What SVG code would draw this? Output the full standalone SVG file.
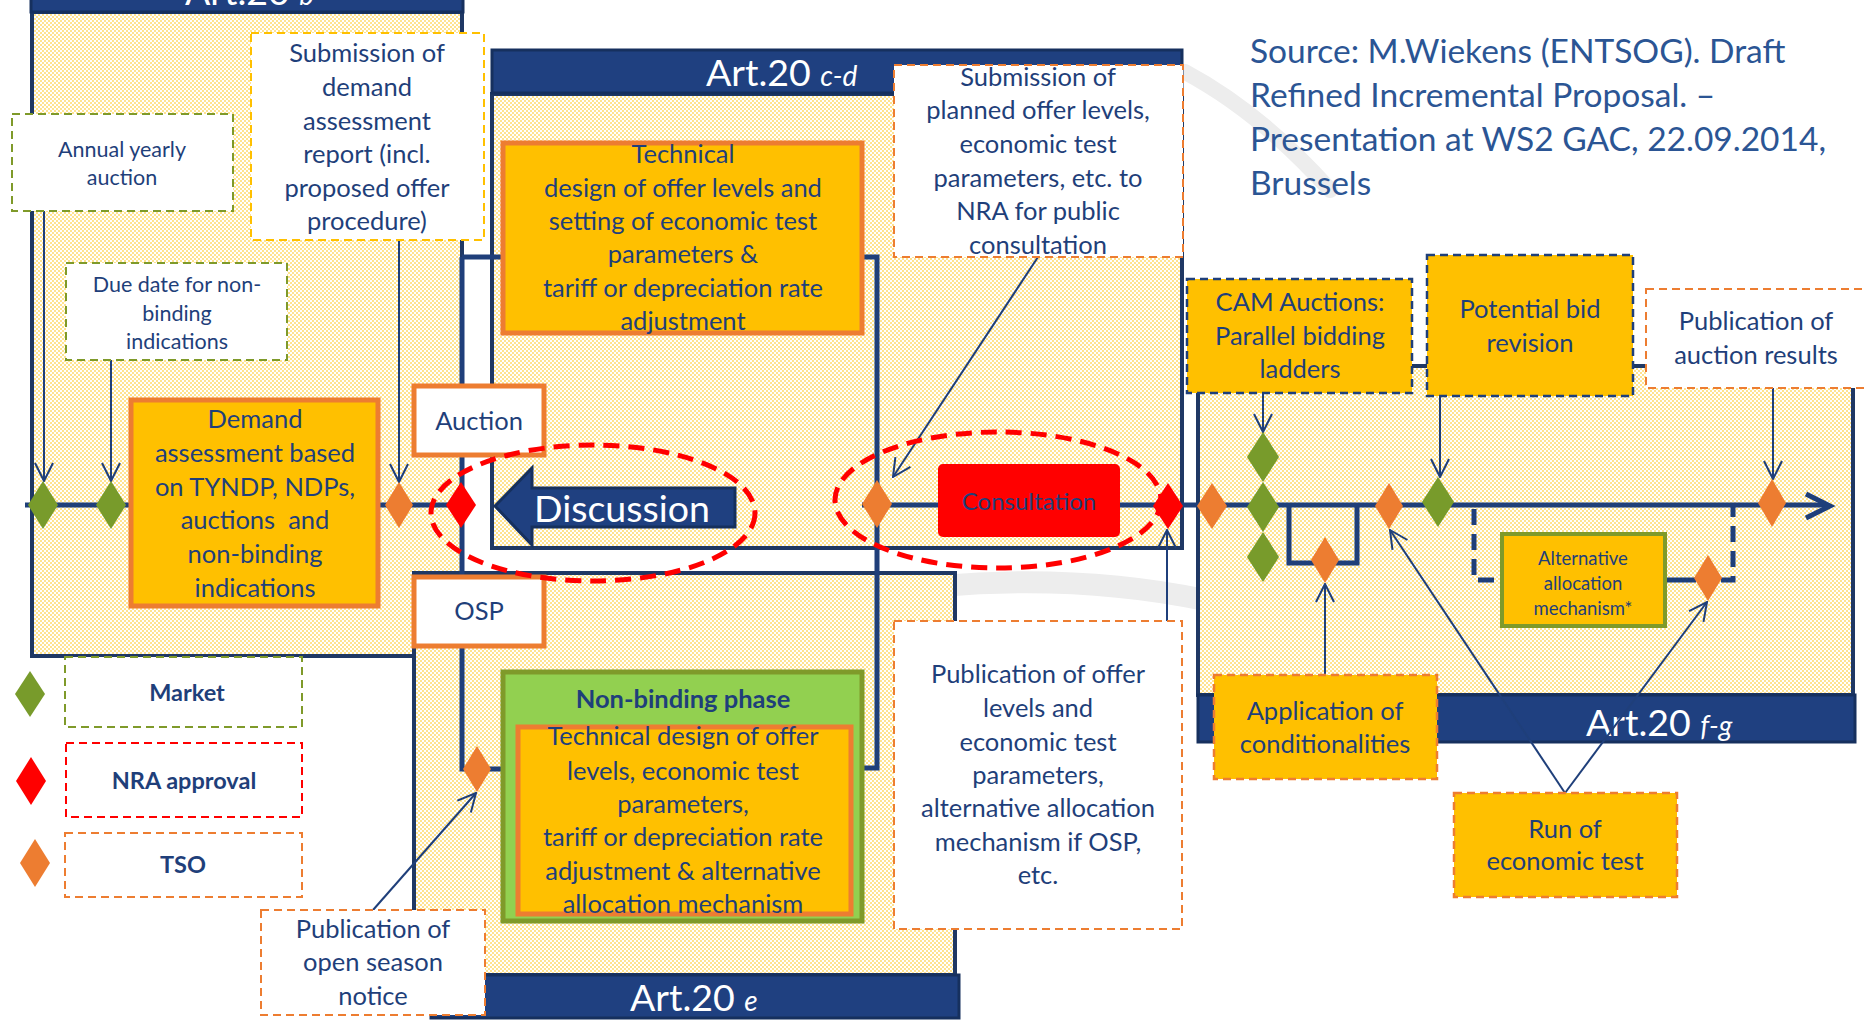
<svg xmlns="http://www.w3.org/2000/svg" width="1864" height="1023" viewBox="0 0 1864 1023">
<defs>
<pattern id="dots" width="4" height="4" patternUnits="userSpaceOnUse"><rect width="4" height="4" fill="#fff"/><circle cx="1" cy="1" r="0.8" fill="#FFC000"/><circle cx="3" cy="3" r="0.8" fill="#FFC000"/></pattern>
<marker id="ah" viewBox="0 0 20 20" refX="19" refY="10" markerWidth="20" markerHeight="20" markerUnits="userSpaceOnUse" orient="auto"><path d="M1,1 L19,10 L1,19" fill="none" stroke="#1F3F7A" stroke-width="2"/></marker>
<style>
.t{font-family:Lato,"Open Sans","Liberation Sans",sans-serif;fill:#1F3F7A;text-anchor:middle}
.f24{font-size:25.5px}
.f21{font-size:21.5px}
.f18{font-size:18.5px}
.bold{font-weight:700}
.wh{fill:#fff;text-anchor:start;font-size:37.5px}
.it{font-style:italic;font-size:28px}
.hdr{fill:#1F4080;stroke:#16305E;stroke-width:3}
.panel{fill:url(#dots);stroke:#1F3864;stroke-width:4}
.db{fill:#fff;stroke-width:2;stroke-dasharray:8 5}
.gr{stroke:#7F9A2A}
.yl{stroke:#FFC000}
.or{stroke:#ED7D31}
.rd{stroke:#FF0000}
.yb{fill:#FFC000;stroke:#ED7D31;stroke-width:5}
.ydb{fill:#FFC000;stroke-width:2.5;stroke-dasharray:8 5}
.nv{stroke:#1F3F7A}
.dg{fill:#789B2B}
.do{fill:#ED7D31}
.dr{fill:#FF0000}
.con{stroke:#1F3F7A;stroke-width:2;fill:none;marker-end:url(#ah)}
.thick{stroke:#1F3F7A;stroke-width:5;fill:none}
.ell{fill:none;stroke:#FF0000;stroke-width:5;stroke-dasharray:16 9}
</style>
</defs>
<rect width="1864" height="1023" fill="#fff"/>
<g id="watermark" fill="none" stroke="#EDEDED" stroke-linecap="round">
<path d="M1185,72 Q1260,112 1330,190" stroke-width="16"/>
<path d="M940,586 Q1080,574 1205,600" stroke-width="22"/>
</g>
<g id="panels">
<g id="panel-b">
<rect class="panel" x="32" y="12" width="430" height="644"/>
<rect class="hdr" x="31" y="-40" width="432" height="52"/>
<text class="t wh" x="185" y="5">Art.20 <tspan class="it">b</tspan></text>
</g>
<g id="panel-cd">
<rect class="panel" x="492" y="94" width="690" height="454"/>
<rect class="hdr" x="492" y="50" width="690" height="43"/>
<text class="t wh" x="706" y="86">Art.20 <tspan class="it">c-d</tspan></text>
</g>
<g id="panel-e">
<rect class="panel" x="414" y="573" width="541" height="402"/>
<rect class="hdr" x="431" y="975" width="528" height="43"/>
<text class="t wh" x="630" y="1011">Art.20 <tspan class="it">e</tspan></text>
</g>
<g id="panel-fg">
<rect class="panel" x="1198" y="366" width="655" height="329"/>
<rect class="hdr" x="1198" y="695" width="657" height="47"/>
<text class="t wh" x="1586" y="736">Art.20 <tspan class="it">f-g</tspan></text>
</g>
</g>
<g id="connectors">
<path class="thick" stroke-width="6" d="M25,505 H470 M862,505 H1826"/>
<path class="thick" d="M1806,494 L1830,506 L1806,518"/>
<path class="thick" d="M462,257 H877 V768 H862 M462,257 V769 H503"/>
<path class="thick" d="M1289,507 V563 H1357 V507"/>
<path class="thick" d="M1665,580 H1696"/>
<path class="thick" stroke-dasharray="16 9" d="M1474,509 V580 H1502 M1721,580 H1733 V507"/>
<path class="con" d="M44,211 V481"/>
<path class="con" d="M111,360 V481"/>
<path class="con" d="M399,240 V482"/>
<path class="con" d="M1038,257 L893,477"/>
<path class="con" d="M1167,621 V530"/>
<path class="con" d="M373,910 L476,793"/>
<path class="con" d="M1263,393 V432"/>
<path class="con" d="M1440,396 V477"/>
<path class="con" d="M1773,388 V479"/>
<path class="con" d="M1325,675 V584"/>
<path class="con" d="M1565,793 L1390,530"/>
<path class="con" d="M1565,793 L1707,602"/>
</g>
<g id="annual-yearly-auction">
<rect class="db gr" x="12" y="114" width="221" height="97"/>
<text class="t f21"><tspan x="122" y="157">Annual yearly</tspan><tspan x="122" y="185">auction</tspan></text>
</g>
<g id="due-date">
<rect class="db gr" x="66" y="263" width="221" height="97"/>
<text class="t f21"><tspan x="177" y="292">Due date for non-</tspan><tspan x="177" y="321">binding</tspan><tspan x="177" y="349">indications</tspan></text>
</g>
<g id="submission-report">
<rect class="db yl" x="251" y="33" width="233" height="207"/>
<text class="t f24"><tspan x="367" y="62">Submission of</tspan><tspan x="367" y="96">demand</tspan><tspan x="367" y="130">assessment</tspan><tspan x="367" y="163">report (incl.</tspan><tspan x="367" y="197">proposed offer</tspan><tspan x="367" y="230">procedure)</tspan></text>
</g>
<g id="demand-assessment">
<rect class="yb" x="131" y="400" width="247" height="206"/>
<text class="t f24"><tspan x="255" y="428">Demand</tspan><tspan x="255" y="462">assessment based</tspan><tspan x="255" y="496">on TYNDP, NDPs,</tspan><tspan x="255" y="529" xml:space="preserve">auctions  and</tspan><tspan x="255" y="563">non-binding</tspan><tspan x="255" y="597">indications</tspan></text>
</g>
<g id="auction">
<rect x="414" y="386" width="130" height="69" fill="#fff" stroke="#ED7D31" stroke-width="5"/>
<text class="t f24" x="479" y="430">Auction</text>
</g>
<g id="osp">
<rect x="414" y="577" width="130" height="69" fill="#fff" stroke="#ED7D31" stroke-width="5"/>
<text class="t f24" x="479" y="620">OSP</text>
</g>
<g id="technical-design">
<rect class="yb" x="503" y="143" width="359" height="190"/>
<text class="t f24"><tspan x="683" y="163">Technical</tspan><tspan x="683" y="197">design of offer levels and</tspan><tspan x="683" y="230">setting of economic test</tspan><tspan x="683" y="263">parameters &amp;</tspan><tspan x="683" y="297">tariff or depreciation rate</tspan><tspan x="683" y="330">adjustment</tspan></text>
</g>
<g id="submission-planned">
<rect class="db or" x="894" y="65" width="289" height="192"/>
<text class="t f24"><tspan x="1038" y="86">Submission of</tspan><tspan x="1038" y="119">planned offer levels,</tspan><tspan x="1038" y="153">economic test</tspan><tspan x="1038" y="187">parameters, etc. to</tspan><tspan x="1038" y="220">NRA for public</tspan><tspan x="1038" y="254">consultation</tspan></text>
</g>
<g id="discussion">
<polygon points="495,506 532,468 532,488 735,488 735,527 532,527 532,545" fill="#1F4080" stroke="#16305E" stroke-width="3"/>
<text class="t wh" x="534" y="522" font-size="38">Discussion</text>
</g>
<g id="consultation">
<rect x="938" y="464" width="182" height="73" rx="5" fill="#FF0000"/>
<text class="t" x="1029" y="510" font-size="24" fill="#3A3A8F">Consultation</text>
</g>
<g id="non-binding-phase">
<rect x="503" y="672" width="359" height="249" fill="#92D050" stroke="#7F9A2A" stroke-width="5"/>
<text class="t f24 bold" x="683" y="708">Non-binding phase</text>
<rect class="yb" x="518" y="727" width="333" height="187"/>
<text class="t f24"><tspan x="683" y="745">Technical design of offer</tspan><tspan x="683" y="780">levels, economic test</tspan><tspan x="683" y="813">parameters,</tspan><tspan x="683" y="846">tariff or depreciation rate</tspan><tspan x="683" y="880">adjustment &amp; alternative</tspan><tspan x="683" y="913">allocation mechanism</tspan></text>
</g>
<g id="publication-offer-levels">
<rect class="db or" x="894" y="621" width="288" height="308"/>
<text class="t f24"><tspan x="1038" y="683">Publication of offer</tspan><tspan x="1038" y="717">levels and</tspan><tspan x="1038" y="751">economic test</tspan><tspan x="1038" y="784">parameters,</tspan><tspan x="1038" y="817">alternative allocation</tspan><tspan x="1038" y="851">mechanism if OSP,</tspan><tspan x="1038" y="884">etc.</tspan></text>
</g>
<g id="open-season-notice">
<rect class="db or" x="261" y="910" width="224" height="105"/>
<text class="t f24"><tspan x="373" y="938">Publication of</tspan><tspan x="373" y="971">open season</tspan><tspan x="373" y="1005">notice</tspan></text>
</g>
<g id="cam-auctions">
<rect class="ydb nv" x="1187" y="279" width="225" height="114"/>
<text class="t f24"><tspan x="1300" y="311">CAM Auctions:</tspan><tspan x="1300" y="345">Parallel bidding</tspan><tspan x="1300" y="378">ladders</tspan></text>
</g>
<g id="potential-bid-revision">
<rect class="ydb nv" x="1427" y="255" width="206" height="141"/>
<text class="t f24"><tspan x="1530" y="318">Potential bid</tspan><tspan x="1530" y="352">revision</tspan></text>
</g>
<g id="publication-auction-results">
<rect class="db or" x="1646" y="289" width="222" height="99"/>
<text class="t f24"><tspan x="1756" y="330">Publication of</tspan><tspan x="1756" y="364">auction results</tspan></text>
</g>
<g id="alternative-allocation">
<rect x="1502" y="534" width="163" height="92" fill="#FFC000" stroke="#7F9A2A" stroke-width="4"/>
<text class="t f18"><tspan x="1583" y="565">Alternative</tspan><tspan x="1583" y="590">allocation</tspan><tspan x="1583" y="615">mechanism*</tspan></text>
</g>
<g id="application-conditionalities">
<rect class="ydb or" x="1214" y="675" width="223" height="104"/>
<text class="t f24"><tspan x="1325" y="720">Application of</tspan><tspan x="1325" y="753">conditionalities</tspan></text>
</g>
<g id="run-economic-test">
<rect class="ydb or" x="1454" y="793" width="223" height="104"/>
<text class="t f24"><tspan x="1565" y="838">Run of</tspan><tspan x="1565" y="870">economic test</tspan></text>
</g>
<g id="milestones">
<polygon id="m-market-1" class="dg" points="43,481 58,505 43,529 28,505"/>
<polygon id="m-market-2" class="dg" points="111,481 126,505 111,529 96,505"/>
<polygon id="m-tso-1" class="do" points="399,482 413,505 399,528 385,505"/>
<polygon id="m-nra-1" class="dr" points="461,482 476,505 461,528 446,505"/>
<polygon id="m-tso-2" class="do" points="877,480 892,504 877,528 862,504"/>
<polygon id="m-nra-2" class="dr" points="1168,483 1183,506 1168,529 1153,506"/>
<polygon id="m-tso-3" class="do" points="1212,483 1227,506 1212,529 1197,506"/>
<polygon id="m-market-3" class="dg" points="1263,432 1279,457 1263,482 1247,457"/>
<polygon id="m-market-4" class="dg" points="1263,482 1279,507 1263,532 1247,507"/>
<polygon id="m-market-5" class="dg" points="1263,532 1279,557 1263,582 1247,557"/>
<polygon id="m-tso-4" class="do" points="1325,537 1339,560 1325,583 1311,560"/>
<polygon id="m-tso-5" class="do" points="1389,483 1403,506 1389,529 1375,506"/>
<polygon id="m-market-6" class="dg" points="1438,477 1454,502 1438,527 1422,502"/>
<polygon id="m-tso-6" class="do" points="1708,555 1722,578 1708,601 1694,578"/>
<polygon id="m-tso-7" class="do" points="1772,479 1786,503 1772,527 1758,503"/>
<polygon id="m-tso-8" class="do" points="477,746 491,769 477,792 463,769"/>
</g>
<g id="legend-market">
<polygon class="dg" points="30,671 45,694 30,717 15,694"/>
<rect class="db gr" x="65" y="657" width="237" height="70"/>
<text class="t bold" font-size="23.5" x="187" y="701">Market</text>
</g>
<g id="legend-nra">
<polygon class="dr" points="31,757 46,781 31,805 16,781"/>
<rect class="db rd" x="66" y="743" width="236" height="74"/>
<text class="t bold" font-size="23.5" x="184" y="789">NRA approval</text>
</g>
<g id="legend-tso">
<polygon class="do" points="35,839 50,863 35,887 20,863"/>
<rect class="db or" x="65" y="833" width="237" height="64"/>
<text class="t bold" font-size="23.5" x="183" y="873">TSO</text>
</g>
<g id="highlights">
<ellipse class="ell" cx="593" cy="513" rx="162" ry="68"/>
<ellipse class="ell" cx="998" cy="500" rx="163" ry="68"/>
</g>
<g id="source">
<text class="t" style="text-anchor:start;fill:#2B5594" font-size="33.5"><tspan x="1250" y="63">Source: M.Wiekens (ENTSOG). Draft</tspan><tspan x="1250" y="107">Refined Incremental Proposal. –</tspan><tspan x="1250" y="151">Presentation at WS2 GAC, 22.09.2014,</tspan><tspan x="1250" y="195">Brussels</tspan></text>
</g>
</svg>
